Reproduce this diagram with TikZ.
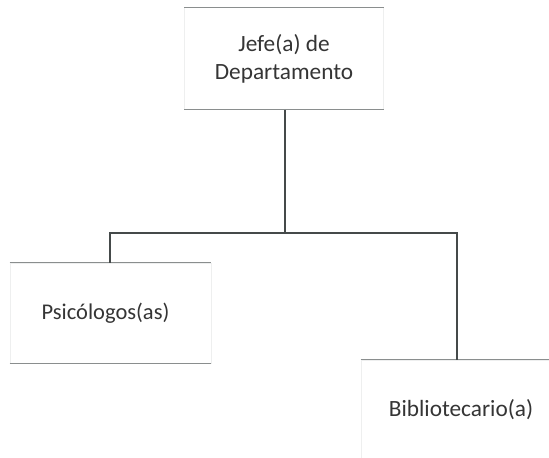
\documentclass[tikz,border=0pt]{standalone}
\usepackage{fontspec}
\setmainfont{Carlito}
\definecolor{txt}{HTML}{353535}
\definecolor{conn}{HTML}{454A4A}
\definecolor{edge}{HTML}{8A8E8E}
\definecolor{side}{HTML}{EEEFEF}
\tikzset{
  orgbox/.style={draw=side, line width=0.6bp, rectangle, minimum width=199bp, minimum height=102bp,
    align=center, text=txt, font=\fontsize{23.3bp}{28bp}\selectfont, inner sep=0pt},
  hedge/.style={draw=edge, line width=1bp},
  connector/.style={draw=conn, line width=2bp}
}
\begin{document}
\begin{tikzpicture}[x=1bp,y=-1bp]
\useasboundingbox (0,0) rectangle (549,458);
\fill[white] (0,0) rectangle (549,458);
\node[orgbox] (top) at (284,58.5) {Jefe(a) de\\Departamento};
\node[orgbox, minimum width=201bp, minimum height=100bp, font=\fontsize{22.5bp}{28bp}\selectfont] (psi) at (110.5,313) {\hspace*{-10bp}Psicólogos(as)};
\node[orgbox, minimum width=200bp, minimum height=100bp] (bib) at (461,410) {Bibliotecario(a)};
\foreach \n in {top,psi,bib}{
  \draw[hedge] (\n.north west) -- (\n.north east);
  \draw[hedge] (\n.south west) -- (\n.south east);
}
\coordinate (busL) at (110,233);
\coordinate (busR) at (457,233);
\draw[connector] (top.south -| 285,0) -- (285,233);
\draw[connector, line join=miter] (psi.north -| busL) -- (busL) -- (busR) -- (bib.north -| busR);
\end{tikzpicture}
\end{document}
